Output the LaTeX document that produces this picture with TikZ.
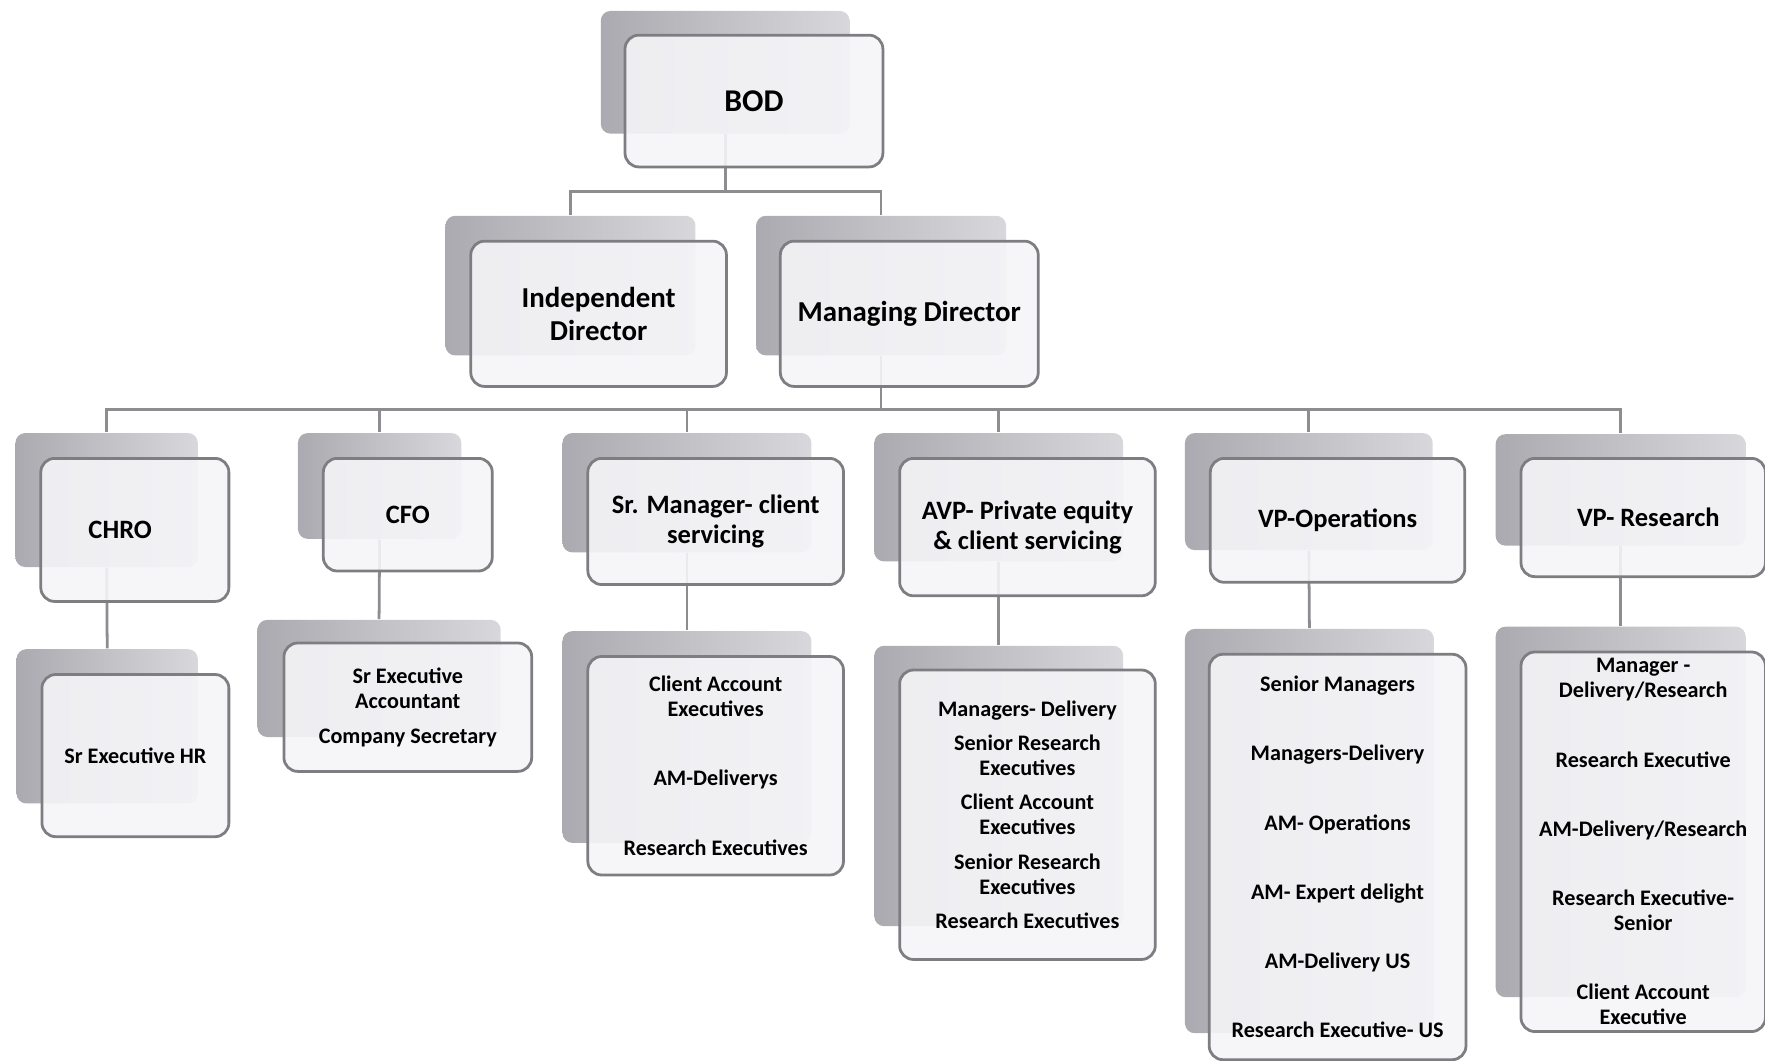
\documentclass[tikz,border=0pt]{standalone}
\usepackage{fontspec}
\setmainfont{Carlito}
\usetikzlibrary{backgrounds}

\definecolor{cardfill}{RGB}{245,245,248}
\definecolor{cardline}{RGB}{125,125,130}
\definecolor{linkgray}{RGB}{140,140,145}
\definecolor{shadedark}{RGB}{170,170,176}
\definecolor{shadelight}{RGB}{216,216,220}

\tikzset{
  card/.style={draw=cardline, line width=0.7pt, fill=cardfill, fill opacity=0.9,
    text opacity=1, rounded corners=3.5pt, anchor=north west, align=center, inner sep=0pt},
  back/.style={left color=shadedark, right color=shadelight, rounded corners=2.5pt,
    anchor=north west, inner sep=0pt},
  link/.style={draw=linkgray, line width=0.7pt},
  top/.style={font=\bfseries\fontsize{8}{9.6}\selectfont},
  boss/.style={font=\bfseries\fontsize{7.3}{8.3}\selectfont},
  head/.style={font=\bfseries\fontsize{6.7}{7.6}\selectfont},
  list/.style={font=\bfseries\fontsize{5.6}{6.3}\selectfont},
}

\begin{document}
\begin{tikzpicture}[x=0.01cm, y=-0.01cm]
  \useasboundingbox (0,0) rectangle (1568,942.5);

  % board and directors
  \node (bod) [card, top, minimum width=2.29cm, minimum height=1.17cm] at (554,30) {BOD};
  \node (indep) [card, boss, minimum width=2.27cm, minimum height=1.29cm] at (417,213) {Independent\\Director};
  \node (md) [card, boss, minimum width=2.29cm, minimum height=1.29cm] at (692,213) {Managing Director};

  % heads
  \node (chro) [card, head, minimum width=1.67cm, minimum height=1.27cm] at (35,406) {CHRO\hspace*{7.4pt}};
  \node (cfo) [card, head, minimum width=1.50cm, minimum height=1.00cm] at (286,406) {CFO};
  \node (srm) [card, head, minimum width=2.27cm, minimum height=1.12cm] at (521,406) {Sr. Manager- client\\servicing};
  \node (avp) [card, head, minimum width=2.27cm, minimum height=1.22cm] at (798,406) {AVP- Private equity\\\& client servicing};
  \node (vpo) [card, head, minimum width=2.26cm, minimum height=1.10cm] at (1074,406) {VP-Operations};
  \node (vpr) [card, head, minimum width=2.17cm, minimum height=1.05cm] at (1350,406) {\hspace*{2.6pt}VP- Research};

  % teams
  \node (hr) [card, list, minimum width=1.66cm, minimum height=1.44cm] at (36,598) {Sr Executive HR};
  \node (acc) [card, list, minimum width=2.20cm, minimum height=1.14cm] at (251,570)
    {Sr Executive\\Accountant\\[2.5pt]Company Secretary};
  \node (cae) [card, list, minimum width=2.27cm, minimum height=1.94cm] at (521,582)
    {Client Account\\Executives\\[11.2pt]AM-Deliverys\\[11.2pt]Research Executives};
  \node (mgd) [card, list, minimum width=2.27cm, minimum height=2.57cm] at (798,594)
    {Managers- Delivery\\[2.4pt]Senior Research\\Executives\\[2.4pt]Client Account\\Executives\\[2.4pt]Senior Research\\Executives\\[2.4pt]Research Executives};
  \node (smg) [card, list, minimum width=2.28cm, minimum height=3.60cm] at (1073,580)
    {Senior Managers\\[11.2pt]Managers-Delivery\\[11.2pt]AM- Operations\\[11.2pt]AM- Expert delight\\[11.2pt]AM-Delivery US\\[11.2pt]Research Executive- US};
  \node (mdr) [card, list, minimum width=2.17cm, minimum height=3.37cm] at (1350,578)
    {Manager -\\Delivery/Research\\[11.2pt]Research Executive\\[11.2pt]AM-Delivery/Research\\[11.2pt]Research Executive-\\Senior\\[11.2pt]Client Account\\Executive};

  \begin{scope}[on background layer]
    \node (bodb) [back, minimum width=2.21cm, minimum height=1.09cm] at ([shift={(-21,-21)}]bod.north west) {};
    \node (indepb) [back, minimum width=2.22cm, minimum height=1.24cm] at ([shift={(-22,-22)}]indep.north west) {};
    \node (mdb) [back, minimum width=2.22cm, minimum height=1.24cm] at ([shift={(-21,-22)}]md.north west) {};
    \node (chrob) [back, minimum width=1.62cm, minimum height=1.19cm] at ([shift={(-22,-22)}]chro.north west) {};
    \node (cfob) [back, minimum width=1.45cm, minimum height=0.94cm] at ([shift={(-22,-22)}]cfo.north west) {};
    \node (srmb) [back, minimum width=2.21cm, minimum height=1.06cm] at ([shift={(-22,-22)}]srm.north west) {};
    \node (avpb) [back, minimum width=2.21cm, minimum height=1.14cm] at ([shift={(-22,-22)}]avp.north west) {};
    \node (vpob) [back, minimum width=2.20cm, minimum height=1.04cm] at ([shift={(-22,-22)}]vpo.north west) {};
    \node (vprb) [back, minimum width=2.22cm, minimum height=0.99cm] at ([shift={(-22,-21)}]vpr.north west) {};
    \node (hrb) [back, minimum width=1.61cm, minimum height=1.37cm] at ([shift={(-22,-22)}]hr.north west) {};
    \node (accb) [back, minimum width=2.16cm, minimum height=1.04cm] at ([shift={(-23,-20)}]acc.north west) {};
    \node (caeb) [back, minimum width=2.21cm, minimum height=1.88cm] at ([shift={(-22,-22)}]cae.north west) {};
    \node (mgdb) [back, minimum width=2.21cm, minimum height=2.49cm] at ([shift={(-22,-21)}]mgd.north west) {};
    \node (smgb) [back, minimum width=2.21cm, minimum height=3.59cm] at ([shift={(-21,-22)}]smg.north west) {};
    \node (mdrb) [back, minimum width=2.22cm, minimum height=3.29cm] at ([shift={(-22,-22)}]mdr.north west) {};

    \draw[link] (bodb.south) -- ++(0,51) -| (indepb.north);
    \draw[link] (bodb.south) -- ++(0,51) -| (mdb.north);
    \path (mdb.south) ++(0,47) coordinate (bus);
    \draw[link] (mdb.south) -- (bus);
    \draw[link] (bus) -| (chrob.north);
    \draw[link] (bus) -| (cfob.north);
    \draw[link] (bus) -| (srmb.north);
    \draw[link] (bus) -| (avpb.north);
    \draw[link] (bus) -| (vpob.north);
    \draw[link] (bus) -| (vprb.north);
    \path[link]
      (chrob.south) edge (hrb.north)
      (cfob.south) edge (accb.north)
      (srmb.south) edge (caeb.north)
      (avpb.south) edge (mgdb.north)
      (vpob.south) edge (smgb.north)
      (vprb.south) edge (mdrb.north);
  \end{scope}
\end{tikzpicture}
\end{document}
